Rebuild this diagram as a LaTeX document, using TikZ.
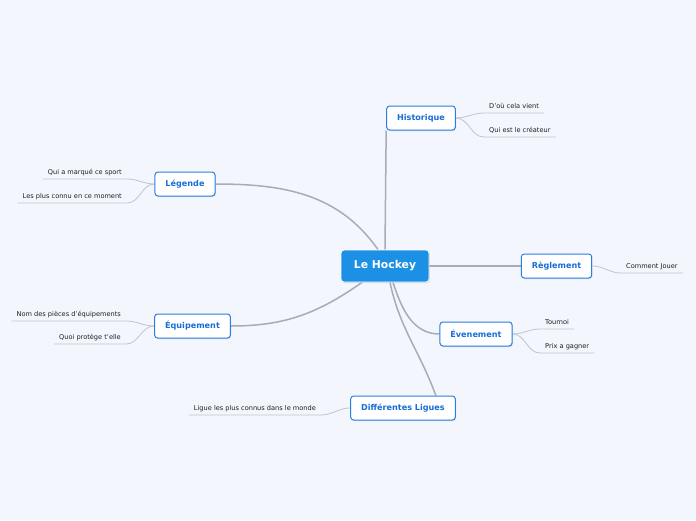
\documentclass[tikz,border=0pt]{standalone}
\usepackage{fontspec}
\setmainfont{DejaVu Sans}
\usetikzlibrary{shadows}
\pgfdeclarelayer{back}
\pgfdeclarelayer{lines}
\pgfsetlayers{back,lines,main}
\definecolor{bg}{RGB}{243,246,253}
\definecolor{hubblue}{RGB}{27,144,228}
\definecolor{topicblue}{RGB}{24,110,214}
\definecolor{topicborder}{RGB}{42,126,224}
\definecolor{mainline}{RGB}{168,172,184}
\definecolor{subline}{RGB}{192,196,206}
\definecolor{subtext}{RGB}{30,30,30}
\tikzset{
  hubbox/.style={fill=hubblue, draw=white, line width=0.8pt, rounded corners=3pt,
    text=white, font=\fontsize{10.8}{12}\selectfont\bfseries,
    minimum width=88pt, minimum height=32pt, inner sep=0pt,
    drop shadow={opacity=0.25, shadow xshift=0.8pt, shadow yshift=-1pt}},
  topicbox/.style={fill=white, draw=topicborder, line width=1pt, rounded corners=3pt,
    text=topicblue, font=\fontsize{8.1}{9}\selectfont\bfseries,
    minimum height=24pt, inner xsep=10.5pt, inner ysep=0pt,
    drop shadow={opacity=0.22, shadow xshift=0.8pt, shadow yshift=-1pt}},
  subtopic/.style={font=\fontsize{6.6}{7.5}\selectfont, text=subtext,
    inner xsep=5pt, inner ysep=3pt, text height=4.8pt, text depth=1.5pt},
  mainconn/.style={draw=mainline, line width=1.5pt},
  subconn/.style={draw=subline, line width=0.8pt},
}
\begin{document}
\begin{tikzpicture}[x=1pt,y=1pt]
\begin{pgfonlayer}{back}
\fill[bg] (0,0) rectangle (696,-520);
\end{pgfonlayer}
\useasboundingbox (0,0) rectangle (696,-520);

\node[hubbox] (hub) at (385,-266) {Le Hockey};
\node[topicbox] (hist) at (421,-118) {Historique};
\node[topicbox] (leg) at (185,-184) {Légende};
\node[topicbox] (regl) at (556.5,-266) {Règlement};
\node[topicbox] (equip) at (192.5,-326) {Équipement};
\node[topicbox] (even) at (476,-334) {Évenement};
\node[topicbox] (lig) at (403,-408) {Différentes Ligues};

% subtopics
\node[subtopic, anchor=south west] (h1) at (484,-113) {D'où cela vient};
\node[subtopic, anchor=south west] (h2) at (484,-137) {Qui est le créateur};
\node[subtopic, anchor=south east] (l1) at (127,-179) {Qui a marqué ce sport};
\node[subtopic, anchor=south east] (l2) at (127,-203) {Les plus connu en ce moment};
\node[subtopic, anchor=south west] (r1) at (621,-273) {Comment Jouer};
\node[subtopic, anchor=south east] (e1) at (126,-321) {Nom des pièces d'équipements};
\node[subtopic, anchor=south east] (e2) at (126,-344) {Quoi protège t'elle};
\node[subtopic, anchor=south west] (v1) at (540,-329) {Tournoi};
\node[subtopic, anchor=south west] (v2) at (540,-353) {Prix a gagner};
\node[subtopic, anchor=south east] (g1) at (321,-415) {Ligue les plus connus dans le monde};

\begin{pgfonlayer}{lines}
% main connectors
\draw[mainconn] (hub.north) -- (hist.south west);
\draw[mainconn] ([xshift=-7pt]hub.north) to[out=125,in=0] (leg.east);
\draw[mainconn] (hub.east) -- (regl.west);
\draw[mainconn] ([xshift=-23pt]hub.south) to[out=-145,in=0] (equip.east);
\draw[mainconn] ([xshift=8pt]hub.south) to[out=-72,in=180] (even.west);
\draw[mainconn] ([xshift=5pt]hub.south) to[out=-78,in=110] ([xshift=-20pt]lig.north east);

% sub connectors
\draw[subconn] (hist.east) to[out=0,in=180] (h1.south west) -- (h1.south east);
\draw[subconn] (hist.east) to[out=0,in=180] (h2.south west) -- (h2.south east);
\draw[subconn] (leg.west) to[out=180,in=0] (l1.south east) -- (l1.south west);
\draw[subconn] (leg.west) to[out=180,in=0] (l2.south east) -- (l2.south west);
\draw[subconn] (regl.east) to[out=0,in=180] (r1.south west) -- (r1.south east);
\draw[subconn] (equip.west) to[out=180,in=0] (e1.south east) -- (e1.south west);
\draw[subconn] (equip.west) to[out=180,in=0] (e2.south east) -- (e2.south west);
\draw[subconn] (even.east) to[out=0,in=180] (v1.south west) -- (v1.south east);
\draw[subconn] (even.east) to[out=0,in=180] (v2.south west) -- (v2.south east);
\draw[subconn] (lig.west) to[out=180,in=0] (g1.south east) -- (g1.south west);
\end{pgfonlayer}
\end{tikzpicture}
\end{document}
